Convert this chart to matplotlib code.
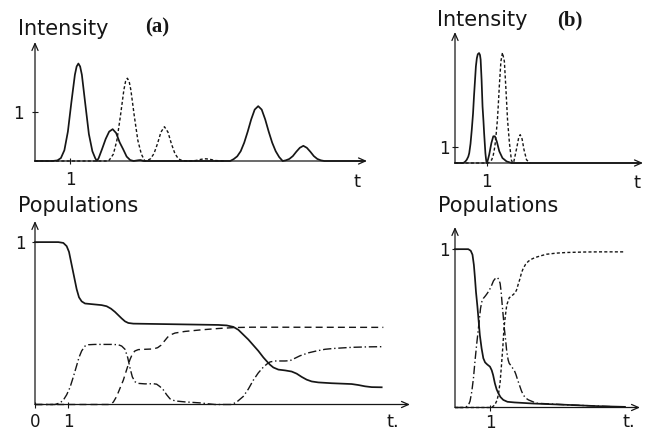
import matplotlib
matplotlib.use('Agg')
import matplotlib.pyplot as plt

# Intensity and population curves.

# (a) intensity: solid = pump pulses, dashed = emitted pulses
ta_int_solid = [0.0, 0.5, 0.64, 0.74, 0.84, 0.94, 1.04, 1.14, 1.19, 1.24, 1.29, 1.34, 1.44, 1.54,
                1.64, 1.72, 1.77, 1.82, 1.92, 2.02, 2.12, 2.22, 2.32, 2.42, 2.52, 2.62, 2.72, 2.82,
                2.95, 3.02, 3.1, 5.58, 5.68, 5.78, 5.88, 5.98, 6.08, 6.18, 6.28, 6.38, 6.48, 6.58,
                6.68, 6.78, 6.88, 6.98, 7.08, 7.17, 7.27, 7.37, 7.47, 7.57, 7.67, 7.77, 7.87, 7.97,
                8.07, 8.17, 8.27, 9.4]
ia_int_solid = [0.0, 0.0, 0.012, 0.06, 0.22, 0.6, 1.2, 1.76, 1.93, 1.99, 1.93, 1.76, 1.15, 0.55,
                0.2, 0.06, 0.0, 0.06, 0.25, 0.45, 0.6, 0.65, 0.57, 0.38, 0.24, 0.09, 0.02, 0.0,
                0.015, 0.02, 0.0, 0.0, 0.039, 0.095, 0.2, 0.374, 0.6, 0.85, 1.05, 1.12, 1.05, 0.85,
                0.6, 0.374, 0.2, 0.08, 0.0, 0.014, 0.042, 0.1, 0.19, 0.27, 0.31, 0.27, 0.19, 0.1,
                0.042, 0.014, 0.0, 0.0]
ta_int_dash = [0.0, 2.1, 2.14, 2.24, 2.34, 2.44, 2.54, 2.59, 2.64, 2.69, 2.74, 2.84, 2.94, 3.04,
               3.14, 3.2, 3.3, 3.4, 3.5, 3.6, 3.7, 3.8, 3.9, 4.0, 4.1, 4.2, 4.4, 4.6, 4.75, 4.88,
               5.0, 5.15, 5.4]
ia_int_dash = [0.0, 0.0, 0.036, 0.14, 0.42, 0.91, 1.45, 1.63, 1.69, 1.63, 1.45, 0.91, 0.42, 0.14,
               0.0, 0.009, 0.044, 0.15, 0.35, 0.59, 0.7, 0.59, 0.35, 0.15, 0.044, 0.009, 0.0, 0.01,
               0.035, 0.045, 0.035, 0.01, 0.0]

# (a) populations
ta_pop_solid = [0.0, 0.7, 0.85, 0.95, 1.02, 1.1, 1.18, 1.25, 1.32, 1.4, 1.5, 1.7, 2.0, 2.15, 2.28,
                2.4, 2.5, 2.6, 2.7, 2.8, 2.95, 5.5, 5.75, 5.95, 6.1, 6.25, 6.4, 6.55, 6.7, 6.85,
                6.95, 7.05, 7.15, 7.3, 7.5, 7.7, 7.85, 8.0, 8.15, 8.3, 8.5, 8.9, 9.5, 9.7, 9.9,
                10.1, 10.4]
pa_pop_solid = [1.0, 1.0, 0.995, 0.975, 0.94, 0.86, 0.78, 0.71, 0.66, 0.635, 0.622, 0.618, 0.612,
                0.605, 0.59, 0.57, 0.55, 0.53, 0.512, 0.502, 0.498, 0.49, 0.487, 0.478, 0.46,
                0.43, 0.4, 0.365, 0.33, 0.29, 0.267, 0.245, 0.228, 0.215, 0.21, 0.203, 0.19, 0.17,
                0.153, 0.142, 0.136, 0.131, 0.126, 0.12, 0.112, 0.107, 0.106]
ta_pop_dash = [0.0, 2.25, 2.35, 2.45, 2.55, 2.65, 2.75, 2.85, 2.93, 3.0, 3.1, 3.3, 3.55, 3.68,
               3.78, 3.88, 3.98, 4.08, 4.2, 4.5, 5.0, 5.5, 6.0, 6.5, 7.0, 10.45]
pa_pop_dash = [0.0, 0.0, 0.015, 0.05, 0.1, 0.15, 0.215, 0.277, 0.315, 0.33, 0.338, 0.34, 0.342,
               0.35, 0.365, 0.39, 0.415, 0.43, 0.44, 0.45, 0.46, 0.468, 0.474, 0.476, 0.476, 0.475]
ta_pop_dd = [0.0, 0.6, 0.75, 0.85, 0.95, 1.05, 1.15, 1.25, 1.32, 1.4, 1.5, 1.6, 1.8, 2.3, 2.5, 2.6,
             2.7, 2.78, 2.85, 2.92, 3.0, 3.1, 3.3, 3.55, 3.65, 3.75, 3.85, 3.95, 4.05, 4.2, 4.5,
             4.95, 5.2, 5.4, 5.9, 6.05, 6.25, 6.4, 6.55, 6.7, 6.85, 6.95, 7.05, 7.2, 7.5, 7.65,
             7.8, 7.95, 8.2, 8.45, 8.7, 8.95, 9.5, 10.0, 10.4]
pa_pop_dd = [0.0, 0.0, 0.01, 0.027, 0.06, 0.105, 0.17, 0.24, 0.29, 0.33, 0.36, 0.368, 0.37, 0.37,
             0.368, 0.36, 0.34, 0.29, 0.225, 0.17, 0.14, 0.13, 0.127, 0.128, 0.125, 0.11, 0.09,
             0.06, 0.035, 0.022, 0.016, 0.01, 0.004, 0.0, 0.0, 0.015, 0.05, 0.095, 0.15, 0.195,
             0.23, 0.248, 0.262, 0.268, 0.268, 0.27, 0.285, 0.3, 0.318, 0.33, 0.34, 0.345, 0.352,
             0.355, 0.356]

# (b) intensity
tb_int_solid = [0.0, 0.26, 0.32, 0.37, 0.42, 0.45, 0.49, 0.53, 0.57, 0.6, 0.63, 0.66, 0.69, 0.72,
                0.76, 0.79, 0.81, 0.84, 0.87, 0.9, 0.92, 0.96, 0.98, 1.0, 1.04, 1.08, 1.15, 1.21,
                1.26, 1.32, 1.4, 1.5, 1.63, 1.79, 5.8]
ib_int_solid = [0.0, 0.0, 0.08, 0.2, 0.4, 0.62, 1.2, 2.08, 3.1, 4.17, 5.1, 6.04, 6.55, 6.8, 6.875,
                6.75, 6.46, 5.2, 3.54, 2.6, 1.875, 0.625, 0.25, 0.0, 0.2, 0.52, 1.25, 1.67, 1.67,
                1.35, 0.73, 0.31, 0.1, 0.0, 0.0]
tb_int_dash = [0.0, 1.05, 1.16, 1.21, 1.26, 1.3, 1.34, 1.37, 1.4, 1.45, 1.5, 1.56, 1.61, 1.66,
               1.72, 1.78, 1.82, 1.86, 1.95, 2.01, 2.06, 2.12, 2.18, 2.26, 2.37]
ib_int_dash = [0.0, 0.0, 0.2, 0.5, 1.04, 1.8, 2.7, 3.7, 4.8, 6.35, 6.9, 6.35, 4.58, 2.7, 1.25, 0.2,
               0.0, 0.1, 0.94, 1.56, 1.77, 1.5, 0.83, 0.2, 0.0]

# (b) populations
tb_pop_solid = [0.0, 0.38, 0.45, 0.5, 0.54, 0.57, 0.6, 0.64, 0.67, 0.71, 0.76, 0.81, 0.86, 0.92,
                1.0, 1.05, 1.09, 1.14, 1.19, 1.24, 1.3, 1.38, 1.5, 1.7, 2.24, 3.19, 4.14, 4.86]
pb_pop_solid = [1.0, 1.0, 0.99, 0.965, 0.9, 0.82, 0.73, 0.64, 0.563, 0.458, 0.374, 0.311, 0.285,
                0.272, 0.258, 0.235, 0.205, 0.153, 0.115, 0.09, 0.066, 0.048, 0.036, 0.032, 0.025,
                0.017, 0.008, 0.004]
tb_pop_dash = [0.0, 1.05, 1.14, 1.2, 1.24, 1.29, 1.33, 1.37, 1.4, 1.44, 1.48, 1.55, 1.62, 1.67,
               1.72, 1.76, 1.81, 1.86, 1.9, 1.95, 2.02, 2.1, 2.2, 2.29, 2.45, 2.62, 2.9, 3.19, 3.7,
               4.14, 4.86]
pb_pop_dash = [0.0, 0.0, 0.017, 0.045, 0.08, 0.16, 0.27, 0.39, 0.5, 0.58, 0.647, 0.693, 0.705,
               0.714, 0.725, 0.742, 0.78, 0.815, 0.85, 0.878, 0.905, 0.924, 0.938, 0.947, 0.958,
               0.968, 0.975, 0.979, 0.982, 0.983, 0.983]
tb_pop_dd = [0.0, 0.29, 0.38, 0.43, 0.48, 0.53, 0.57, 0.62, 0.67, 0.73, 0.77, 0.81, 0.87, 0.92,
             0.98, 1.05, 1.1, 1.16, 1.21, 1.25, 1.29, 1.32, 1.35, 1.38, 1.41, 1.45, 1.48, 1.52,
             1.55, 1.6, 1.65, 1.7, 1.74, 1.79, 1.84, 1.9, 1.95, 2.02, 2.1, 2.33, 3.19, 4.86]
pb_pop_dd = [0.0, 0.0, 0.013, 0.04, 0.1, 0.19, 0.29, 0.4, 0.5, 0.626, 0.67, 0.689, 0.705, 0.72,
             0.74, 0.773, 0.8, 0.817, 0.821, 0.81, 0.784, 0.73, 0.647, 0.575, 0.5, 0.42, 0.353,
             0.3, 0.279, 0.265, 0.248, 0.232, 0.21, 0.175, 0.143, 0.105, 0.08, 0.06, 0.048, 0.027,
             0.017, 0.002]

W, H = 650, 432
ink = '#161616'
sans = ['DejaVu Sans']

fig = plt.figure(figsize=(W / 100, H / 100), dpi=100)


def panel(left, right, top, base, xmax, ymax, xticks, ypad):
    # axes placed by pixel box, drawn as two arrows
    ax = fig.add_axes([left / W, 1 - base / H, (right - left) / W, (base - top) / H])
    ax.set_xlim(0, xmax)
    ax.set_ylim(0, ymax)
    ax.patch.set_alpha(0)
    for s in ax.spines.values():
        s.set_visible(False)
    arrow = dict(arrowstyle='->,head_length=0.5,head_width=0.22', lw=0.9, color=ink,
                 shrinkA=0, shrinkB=0)
    ax.annotate('', xy=(1, 0), xytext=(0, 0), xycoords='axes fraction', arrowprops=arrow)
    ax.annotate('', xy=(0, 1), xytext=(0, 0), xycoords='axes fraction', arrowprops=arrow)
    ax.set_xticks(xticks)
    ax.set_yticks([1])
    ax.tick_params(direction='inout', length=4, width=0.8, color=ink, labelcolor=ink,
                   labelsize=12, pad=5)
    ax.tick_params(axis='y', pad=ypad)
    return ax


def label(x, y, s, **kw):
    kw.setdefault('family', sans)
    kw.setdefault('fontsize', 15)
    fig.text(x / W, 1 - y / H, s, color=ink, **kw)


solid = dict(color=ink, lw=1.25, solid_joinstyle='round', clip_on=False)
short_dash = dict(color=ink, lw=1.0, linestyle=(0, (2.2, 1.6)), clip_on=False)
long_dash = dict(color=ink, lw=1.0, linestyle=(0, (5, 3)), clip_on=False)
dash_dot = dict(color=ink, lw=1.0, linestyle=(0, (6, 2, 1, 2)), clip_on=False)

# (a) intensity
ax1 = panel(35, 367, 42, 161, 9.49, 2.43, [1], 6)
ax1.plot(ta_int_solid, ia_int_solid, **solid)
ax1.plot(ta_int_dash, ia_int_dash, **short_dash)

# (a) populations
ax2 = panel(35, 410, 221, 404.5, 11.25, 1.13, [0, 1], 5)
ax2.plot(ta_pop_solid, pa_pop_solid, **solid)
ax2.plot(ta_pop_dash, pa_pop_dash, **long_dash)
ax2.plot(ta_pop_dd, pa_pop_dd, **dash_dot)
ax2.tick_params(axis='x', pad=4)

# (b) intensity
ax3 = panel(455, 643, 32, 163, 5.94, 8.19, [1], 1.5)
ax3.plot(tb_int_solid, ib_int_solid, **solid)
ax3.plot(tb_int_dash, ib_int_dash, **short_dash)

# (b) populations
ax4 = panel(455, 640, 227, 407.5, 5.29, 1.14, [1], 1.5)
ax4.plot(tb_pop_solid, pb_pop_solid, **solid)
ax4.plot(tb_pop_dash, pb_pop_dash, **short_dash)
ax4.plot(tb_pop_dd, pb_pop_dd, **dash_dot)
ax4.tick_params(axis='x', pad=3)

# titles and axis letters
label(18, 35, 'Intensity', va='baseline')
label(145, 27, '(a)', va='center', family='Liberation Serif', fontweight='bold')
label(18, 212, 'Populations', va='baseline')
label(357, 182, 't', va='center', ha='center', fontsize=13)
label(393, 427, 't.', va='baseline', ha='center', fontsize=13)

label(437, 26, 'Intensity', va='baseline')
label(557, 20, '(b)', va='center', family='Liberation Serif', fontweight='bold')
label(438, 212, 'Populations', va='baseline')
label(637, 183, 't', va='center', ha='center', fontsize=13)
label(629, 427, 't.', va='baseline', ha='center', fontsize=13)

fig.savefig('out.png', dpi=100, facecolor='white')
